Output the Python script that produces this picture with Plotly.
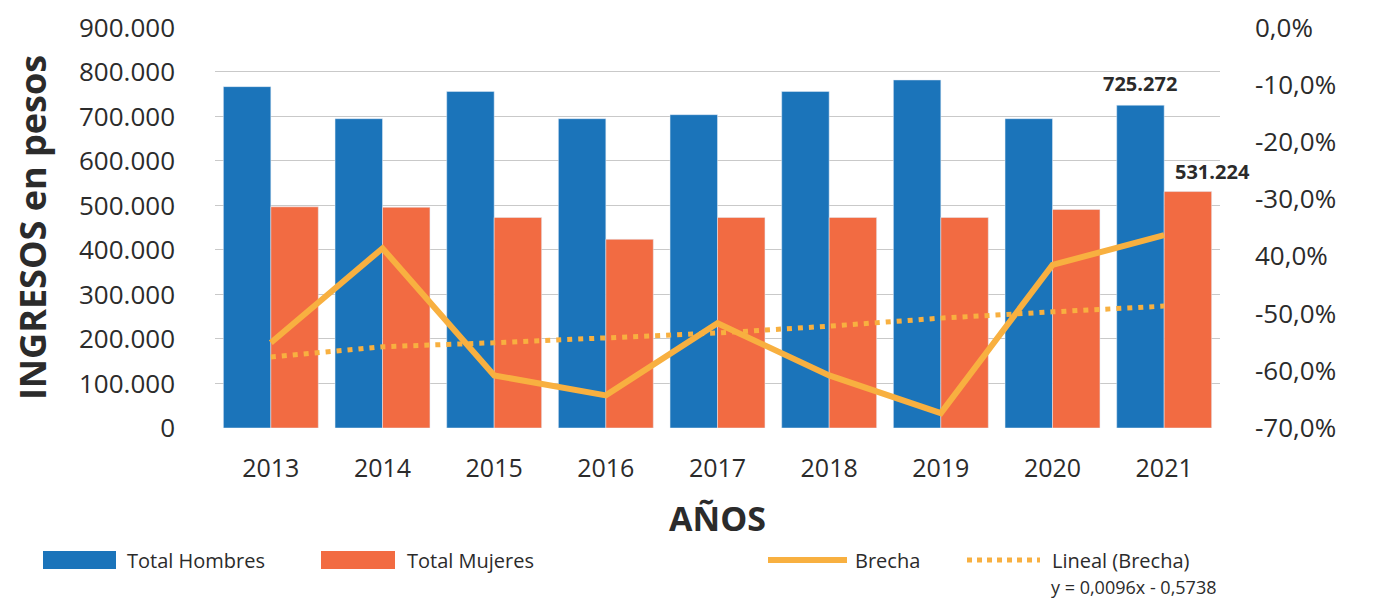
import plotly.graph_objects as go

# ---------------- data ----------------
years = ["2013", "2014", "2015", "2016", "2017", "2018", "2019", "2020", "2021"]
hombres = [767000, 695000, 756000, 695000, 704000, 756000, 782000, 695000, 725272]
mujeres = [497000, 496000, 473000, 424000, 473000, 473000, 473000, 491000, 531224]
brecha = [-0.551, -0.386, -0.608, -0.643, -0.517, -0.608, -0.674, -0.415, -0.363]
lineal = [-0.576, -0.558, -0.551, -0.543, -0.534, -0.522, -0.508, -0.497, -0.487]
y2_tickvals = [0, -0.1, -0.2, -0.3, -0.4, -0.5, -0.6, -0.7]
y2_ticktext = ["0,0%", "-10,0%", "-20,0%", "-30,0%", "40,0%", "-50,0%", "-60,0%", "-70,0%"]
legend_names = ["Total Hombres", "Total Mujeres", "Brecha", "Lineal (Brecha)"]
equation = "y = 0,0096x - 0,5738"

# ---------------- style ----------------
BLUE = "#1B74BA"
ORANGE = "#F26B42"
GOLD = "#F8B040"
TXT = "#2B2B2B"
FONT = "Open Sans"

OFF = 8                      # page body margin
W, H = 1387 - 2 * OFF, 608 - 2 * OFF
L, T = 215 - OFF, 27 - OFF
R = W - (1220 - OFF)
B = H - (428 - OFF)
PW, PH = W - L - R, H - T - B


def px2x(px):
    return (px - OFF - L) / PW


def py2y(py):
    return (H - B - (py - OFF)) / PH


fig = go.Figure()
fig.add_trace(go.Bar(x=years, y=hombres, name=legend_names[0], marker_color=BLUE,
                     showlegend=False))
fig.add_trace(go.Bar(x=years, y=mujeres, name=legend_names[1], marker_color=ORANGE,
                     showlegend=False))
fig.add_trace(go.Scatter(x=years, y=brecha, name=legend_names[2], yaxis="y2", mode="lines",
                         line=dict(color=GOLD, width=6), showlegend=False))
fig.add_trace(go.Scatter(x=years, y=lineal, name=legend_names[3], yaxis="y2", mode="lines",
                         line=dict(color=GOLD, width=5, dash="5px,6px"), showlegend=False))

fmt = lambda v: f"{v:,}".replace(",", ".")
last = len(years) - 1
annotations = [
    dict(x=last, y=hombres[-1], xref="x", yref="y", text=fmt(hombres[-1]),
         showarrow=False, yanchor="bottom", yshift=6, xshift=-24,
         font=dict(family=FONT, size=20, color=TXT, weight="bold")),
    dict(x=last, y=mujeres[-1], xref="x", yref="y", text=fmt(mujeres[-1]),
         showarrow=False, yanchor="bottom", yshift=5, xshift=48,
         font=dict(family=FONT, size=20, color=TXT, weight="bold")),
]

# custom legend
shapes = []
leg_y = 560
items = [
    ("rect", BLUE, 43, 116, 125, legend_names[0]),
    ("rect", ORANGE, 321, 395, 405, legend_names[1]),
    ("line", GOLD, 768, 847, 853, legend_names[2]),
    ("dot", GOLD, 967, 1040, 1050, legend_names[3]),
]
for kind, col, x0, x1, tx, name in items:
    if kind == "rect":
        shapes.append(dict(type="rect", xref="paper", yref="paper",
                           x0=px2x(x0), x1=px2x(x1), y0=py2y(leg_y + 9), y1=py2y(leg_y - 9),
                           fillcolor=col, line=dict(width=0)))
    else:
        shapes.append(dict(type="line", xref="paper", yref="paper",
                           x0=px2x(x0), x1=px2x(x1), y0=py2y(leg_y), y1=py2y(leg_y),
                           line=dict(color=col, width=6 if kind == "line" else 5,
                                     dash="solid" if kind == "line" else "5px,5px")))
    annotations.append(dict(x=px2x(tx), y=py2y(leg_y), xref="paper", yref="paper",
                            text=name, showarrow=False, xanchor="left", yanchor="middle",
                            font=dict(family=FONT, size=20, color=TXT)))
annotations.append(dict(x=px2x(1218), y=py2y(587), xref="paper", yref="paper",
                        text=equation, showarrow=False, xanchor="right", yanchor="middle",
                        font=dict(family=FONT, size=18, color=TXT)))

fig.update_layout(
    width=W, height=H,
    margin=dict(l=L, r=R, t=T, b=B, autoexpand=False),
    paper_bgcolor="white", plot_bgcolor="white",
    separators=",.",
    barmode="group", bargap=0.15, bargroupgap=0,
    font=dict(family=FONT, color=TXT),
    showlegend=False,
    xaxis=dict(type="category", range=[-0.5, len(years) - 0.5],
               tickfont=dict(size=25, color=TXT), ticks="",
               ticklabelstandoff=23, showline=False,
               title=dict(text="AÑOS", standoff=24,
                          font=dict(size=34, color=TXT, weight="bold"))),
    yaxis=dict(range=[0, 901000], dtick=100000, tickformat=",.0f",
               tickfont=dict(size=26, color=TXT), ticklabelstandoff=39,
               showgrid=True, gridcolor="#C9C9C9", gridwidth=1, zeroline=False,
               title=dict(text="INGRESOS en pesos", standoff=35,
                          font=dict(size=36, color=TXT, weight="bold"))),
    yaxis2=dict(overlaying="y", side="right", range=[-0.7, 0.00078],
                tickvals=y2_tickvals, ticktext=y2_ticktext,
                tickfont=dict(size=26, color=TXT), ticklabelstandoff=34,
                showgrid=False, zeroline=False),
    shapes=shapes,
    annotations=annotations,
)

fig.write_html("out.html")
